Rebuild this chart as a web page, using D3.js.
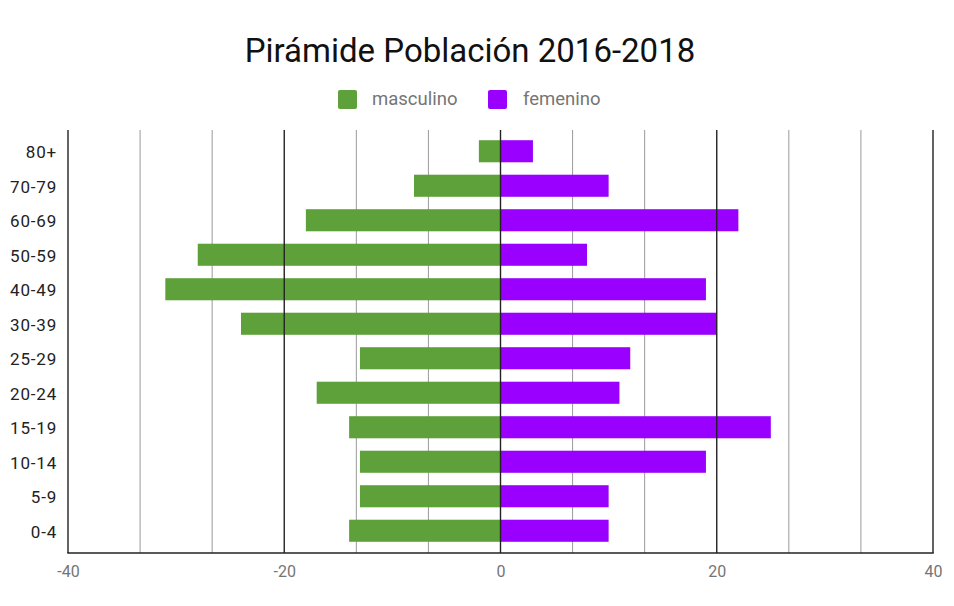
<!DOCTYPE html>
<html><head><meta charset="utf-8">
<script src="https://cdn.jsdelivr.net/npm/d3@7"></script>
<style>body{margin:0;background:#fff;} svg{display:block;}</style>
</head><body>
<svg id="chart" width="954" height="606"></svg>
<script>
const categories = ["80+","70-79","60-69","50-59","40-49","30-39","25-29","20-24","15-19","10-14","5-9","0-4"];
const masculino = [-2,-8,-18,-28,-31,-24,-13,-17,-14,-13,-13,-14];
const femenino = [3,10,22,8,19,20,12,11,25,19,10,10];
const xTicks = [-40,-20,0,20,40];
const seriesNames = ["masculino","femenino"];
const colors = ["#5ea13a","#9900ff"];

const svg = d3.select("#chart");
const x = d3.scaleLinear().domain([-40,40]).range([68,933]);
const y = d3.scaleBand().domain(categories).range([134,548]).paddingInner(0.36).paddingOuter(0.18);
const plotTop = 130, plotBottom = 553;

// minor gridlines
const minor = d3.range(-40,40.001,20/3).filter(v=>!xTicks.some(t=>Math.abs(t-v)<1e-6));
svg.append("g").selectAll("line").data(minor).join("line")
  .attr("x1",d=>x(d)).attr("x2",d=>x(d)).attr("y1",plotTop).attr("y2",plotBottom)
  .attr("stroke","#9a9a9a").attr("stroke-width",1);

// bars
const data = categories.map((c,i)=>({c,m:masculino[i],f:femenino[i]}));
svg.append("g").selectAll("rect").data(data).join("rect")
  .attr("x",d=>x(d.m)).attr("width",d=>x(0)-x(d.m))
  .attr("y",d=>y(d.c)).attr("height",y.bandwidth()).attr("fill",colors[0]);
svg.append("g").selectAll("rect").data(data).join("rect")
  .attr("x",x(0)).attr("width",d=>x(d.f)-x(0))
  .attr("y",d=>y(d.c)).attr("height",y.bandwidth()).attr("fill",colors[1]);

// major gridlines
svg.append("g").selectAll("line").data(xTicks).join("line")
  .attr("x1",d=>x(d)).attr("x2",d=>x(d)).attr("y1",plotTop).attr("y2",plotBottom)
  .attr("stroke","#222").attr("stroke-width",1.4);
// bottom axis line
svg.append("line").attr("x1",x(-40)-0.7).attr("x2",x(40)+0.7).attr("y1",plotBottom).attr("y2",plotBottom)
  .attr("stroke","#222").attr("stroke-width",1.6);

// x axis labels
const xa = svg.append("g").attr("transform",`translate(0,${plotBottom})`)
  .call(d3.axisBottom(x).tickValues(xTicks).tickSize(0).tickPadding(13).tickFormat(d=>String(d)));
xa.select(".domain").remove();
xa.selectAll("text").attr("font-family","Roboto, sans-serif").attr("font-size",16).attr("fill","#757575");

// y axis labels
const ya = svg.append("g").attr("transform",`translate(${x(-40)},0)`)
  .call(d3.axisLeft(y).tickSize(0).tickPadding(11));
ya.select(".domain").remove();
ya.selectAll("text").attr("font-family","Roboto, sans-serif").attr("font-size",17)
  .attr("letter-spacing","0.8px").attr("fill","#222").attr("dy","0.42em");

// title
svg.append("text").attr("x",470).attr("y",62).attr("text-anchor","middle")
  .attr("font-family","Roboto, sans-serif").attr("font-size",33).attr("fill","#111")
  .text("Pirámide Población 2016-2018");

// legend
const legX = [338,488];
const lg = svg.append("g").selectAll("g").data(seriesNames).join("g")
  .attr("transform",(d,i)=>`translate(${legX[i]},90)`);
lg.append("rect").attr("width",19).attr("height",19).attr("rx",2).attr("fill",(d,i)=>colors[i]);
lg.append("text").attr("x",(d,i)=>i===0?34:35).attr("y",15).attr("font-family","Roboto, sans-serif")
  .attr("font-size",18.5).attr("fill","#757575").text(d=>d);
</script>
</body></html>
